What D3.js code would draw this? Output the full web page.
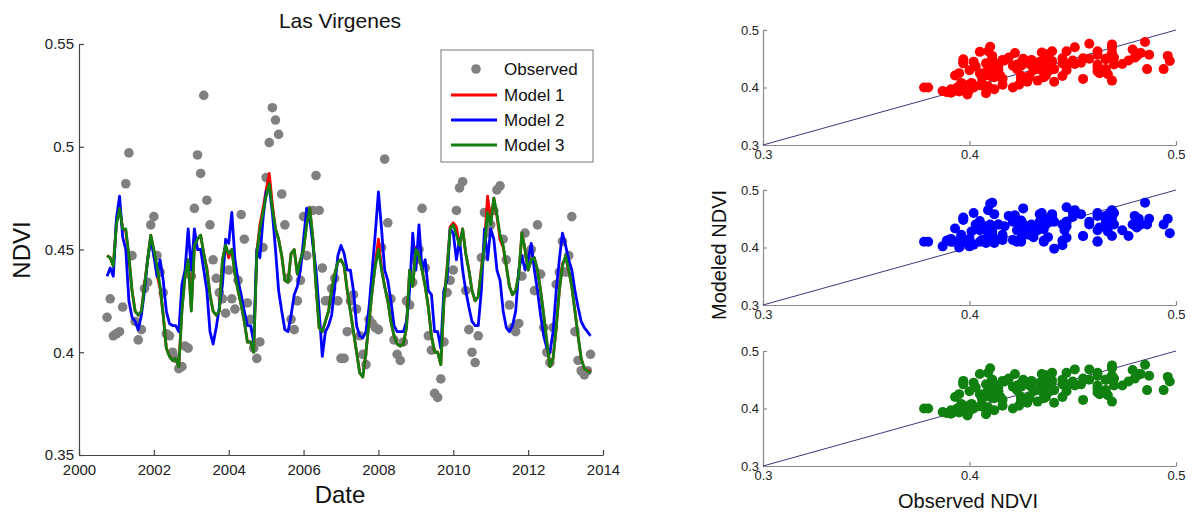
<!DOCTYPE html>
<html>
<head>
<meta charset="utf-8">
<script src="https://cdn.jsdelivr.net/npm/d3@7"></script>
<style>
  html, body { margin: 0; padding: 0; background: #fff; }
  svg { display: block; font-family: "Liberation Sans", Arial, sans-serif; }
</style>
</head>
<body>
<svg id="chart" width="1193" height="514"></svg>
<script>
// Monthly series, October 2000 through September 2013
const startYear = 2000.75;
const monthsPerYear = 12;

const observed = [
  0.417, 0.426, 0.408, 0.409, 0.410, 0.422, 0.482, 0.497, 0.447, 0.415, 0.406, 0.411,
  0.431, 0.434, 0.462, 0.466, 0.447, 0.439, 0.429, 0.409, 0.408, 0.400, 0.397, 0.392,
  0.393, 0.403, 0.402, 0.437, 0.470, 0.496, 0.487, 0.525, 0.474, 0.462, 0.445, 0.436,
  0.429, 0.426, 0.419, 0.440, 0.426, 0.421, 0.435, 0.467, 0.455, 0.424, 0.416, 0.402,
  0.397, 0.405, 0.451, 0.485, 0.502, 0.519, 0.513, 0.506, 0.477, 0.462, 0.436, 0.416,
  0.411, 0.425, 0.435, 0.466, 0.447, 0.469, 0.469, 0.486, 0.469, 0.441, 0.425, 0.425,
  0.431, 0.436, 0.425, 0.397, 0.397, 0.410, 0.425, 0.428, 0.421, 0.408, 0.399, 0.394,
  0.416, 0.414, 0.412, 0.411, 0.451, 0.494, 0.463, 0.426, 0.406, 0.399, 0.396, 0.405,
  0.425, 0.423, 0.434, 0.445, 0.450, 0.470, 0.441, 0.408, 0.401, 0.380, 0.378, 0.387,
  0.405, 0.429, 0.435, 0.440, 0.469, 0.480, 0.483, 0.430, 0.411, 0.400, 0.395, 0.408,
  0.446, 0.468, 0.458, 0.462, 0.469, 0.479, 0.481, 0.455, 0.445, 0.423, 0.412, 0.410,
  0.414, 0.437, 0.458, 0.447, 0.450, 0.430, 0.462, 0.438, 0.412, 0.400, 0.395, 0.412,
  0.433, 0.439, 0.454, 0.439, 0.447, 0.466, 0.410, 0.396, 0.391, 0.389, 0.391, 0.399
];

const model1 = [
  0.447, 0.446, 0.442, 0.463, 0.471, 0.460, 0.459, 0.446, 0.430, 0.420, 0.418, 0.420,
  0.433, 0.445, 0.457, 0.449, 0.438, 0.431, 0.418, 0.402, 0.398, 0.396, 0.397, 0.393,
  0.421, 0.437, 0.445, 0.421, 0.452, 0.455, 0.457, 0.448, 0.441, 0.428, 0.420, 0.418,
  0.420, 0.445, 0.452, 0.446, 0.450, 0.438, 0.430, 0.423, 0.415, 0.405, 0.405, 0.400,
  0.449, 0.462, 0.470, 0.479, 0.487, 0.472, 0.460, 0.455, 0.447, 0.435, 0.434, 0.448,
  0.450, 0.438, 0.445, 0.450, 0.463, 0.470, 0.455, 0.432, 0.412, 0.410, 0.415, 0.420,
  0.430, 0.438, 0.444, 0.445, 0.442, 0.430, 0.420, 0.410, 0.400, 0.390, 0.388, 0.400,
  0.415, 0.430, 0.443, 0.455, 0.441, 0.432, 0.425, 0.415, 0.408, 0.404, 0.403, 0.404,
  0.412, 0.440, 0.432, 0.451, 0.447, 0.440, 0.432, 0.422, 0.408, 0.400, 0.400, 0.394,
  0.425, 0.441, 0.461, 0.463, 0.461, 0.452, 0.460, 0.448, 0.440, 0.430, 0.425, 0.427,
  0.441, 0.453, 0.476, 0.463, 0.475, 0.466, 0.455, 0.451, 0.442, 0.432, 0.428, 0.430,
  0.438, 0.458, 0.450, 0.440, 0.445, 0.446, 0.440, 0.430, 0.418, 0.405, 0.393, 0.397,
  0.412, 0.430, 0.443, 0.446, 0.440, 0.432, 0.420, 0.408, 0.397, 0.392, 0.391, 0.391
];

const model2 = [
  0.437, 0.441, 0.437, 0.465, 0.476, 0.456, 0.450, 0.425, 0.417, 0.415, 0.411, 0.418,
  0.430, 0.445, 0.455, 0.447, 0.437, 0.445, 0.435, 0.420, 0.414, 0.413, 0.413, 0.410,
  0.433, 0.440, 0.460, 0.440, 0.460, 0.450, 0.450, 0.440, 0.430, 0.410, 0.404, 0.412,
  0.422, 0.433, 0.455, 0.453, 0.468, 0.445, 0.435, 0.428, 0.420, 0.413, 0.413, 0.405,
  0.450, 0.446, 0.465, 0.478, 0.480, 0.468, 0.450, 0.430, 0.420, 0.411, 0.410, 0.418,
  0.428, 0.432, 0.440, 0.455, 0.470, 0.465, 0.452, 0.440, 0.420, 0.398, 0.410, 0.413,
  0.418, 0.432, 0.447, 0.452, 0.448, 0.440, 0.440, 0.430, 0.413, 0.408, 0.407, 0.410,
  0.422, 0.440, 0.458, 0.478, 0.460, 0.440, 0.435, 0.425, 0.413, 0.410, 0.410, 0.410,
  0.415, 0.430, 0.458, 0.440, 0.462, 0.440, 0.445, 0.430, 0.428, 0.410, 0.410, 0.402,
  0.430, 0.435, 0.460, 0.458, 0.445, 0.455, 0.440, 0.430, 0.422, 0.415, 0.413, 0.413,
  0.430, 0.460, 0.445, 0.460, 0.455, 0.440, 0.435, 0.420, 0.412, 0.410, 0.413, 0.420,
  0.440, 0.447, 0.440, 0.445, 0.453, 0.440, 0.430, 0.418, 0.408, 0.402, 0.400, 0.410,
  0.430, 0.445, 0.458, 0.452, 0.445, 0.440, 0.430, 0.422, 0.415, 0.412, 0.410, 0.408
];

const model3 = [
  0.447, 0.446, 0.442, 0.462, 0.470, 0.460, 0.460, 0.447, 0.430, 0.420, 0.418, 0.420,
  0.432, 0.445, 0.457, 0.450, 0.442, 0.432, 0.418, 0.402, 0.398, 0.396, 0.397, 0.393,
  0.420, 0.437, 0.445, 0.420, 0.452, 0.455, 0.457, 0.448, 0.440, 0.428, 0.420, 0.418,
  0.420, 0.445, 0.452, 0.448, 0.450, 0.438, 0.430, 0.423, 0.415, 0.405, 0.405, 0.400,
  0.448, 0.460, 0.468, 0.476, 0.482, 0.470, 0.460, 0.455, 0.447, 0.435, 0.434, 0.448,
  0.450, 0.438, 0.445, 0.450, 0.462, 0.470, 0.455, 0.432, 0.412, 0.410, 0.415, 0.420,
  0.430, 0.438, 0.444, 0.445, 0.442, 0.430, 0.420, 0.410, 0.400, 0.390, 0.388, 0.400,
  0.415, 0.430, 0.442, 0.450, 0.440, 0.432, 0.425, 0.415, 0.408, 0.404, 0.403, 0.404,
  0.412, 0.440, 0.432, 0.450, 0.447, 0.440, 0.432, 0.422, 0.408, 0.400, 0.400, 0.394,
  0.425, 0.440, 0.460, 0.462, 0.457, 0.452, 0.460, 0.448, 0.440, 0.430, 0.425, 0.427,
  0.440, 0.452, 0.468, 0.462, 0.475, 0.467, 0.457, 0.452, 0.442, 0.432, 0.428, 0.430,
  0.438, 0.458, 0.450, 0.440, 0.445, 0.446, 0.440, 0.430, 0.418, 0.405, 0.393, 0.397,
  0.412, 0.430, 0.442, 0.447, 0.440, 0.432, 0.420, 0.408, 0.397, 0.392, 0.391, 0.390
];

const seriesNames = ["Observed", "Model 1", "Model 2", "Model 3"];
const modelColors = ["#ff0000", "#0000ff", "#108010"];
const dateTicks = [2000, 2002, 2004, 2006, 2008, 2010, 2012, 2014];
const ndviTicks = [0.35, 0.40, 0.45, 0.50, 0.55];
const scatterTicks = [0.3, 0.4, 0.5];

const dates = observed.map((_, i) => startYear + i / monthsPerYear);
const models = [model1, model2, model3];

const svg = d3.select("#chart");
const fmt = d => String(+d.toFixed(2));

// ---------- Time series panel ----------
const ts = { left: 79, right: 603, top: 44, bottom: 455 };
const x = d3.scaleLinear().domain([2000, 2014]).range([ts.left, ts.right]);
const y = d3.scaleLinear().domain([0.35, 0.55]).range([ts.bottom, ts.top]);

const gL = svg.append("g");

const xAxis = gL.append("g")
  .attr("transform", `translate(0,${ts.bottom})`)
  .call(d3.axisBottom(x).tickValues(dateTicks).tickFormat(d3.format("d")).tickSize(-5).tickSizeOuter(0).tickPadding(9));
const yAxis = gL.append("g")
  .attr("transform", `translate(${ts.left},0)`)
  .call(d3.axisLeft(y).tickValues(ndviTicks).tickFormat(fmt).tickSize(-5).tickSizeOuter(0).tickPadding(5));
[xAxis, yAxis].forEach(a => {
  a.selectAll("path, line").attr("stroke", "#444").attr("stroke-width", 1.2);
  a.selectAll("text").attr("fill", "#222").style("font-size", "15px");
});

// observations
gL.append("g").selectAll("circle")
  .data(observed)
  .join("circle")
  .attr("cx", (d, i) => x(dates[i]))
  .attr("cy", d => y(d))
  .attr("r", 4.8)
  .attr("fill", "#808080");

// model lines
const line = d3.line().x((d, i) => x(dates[i])).y(d => y(d));
models.forEach((m, k) => {
  gL.append("path")
    .datum(m)
    .attr("d", line)
    .attr("fill", "none")
    .attr("stroke", modelColors[k])
    .attr("stroke-width", 2.8)
    .attr("stroke-linejoin", "round");
});

// title and axis labels
gL.append("text").attr("x", 340).attr("y", 28).attr("text-anchor", "middle")
  .style("font-size", "21px").attr("fill", "#111").text("Las Virgenes");
gL.append("text").attr("x", 340).attr("y", 503).attr("text-anchor", "middle")
  .style("font-size", "24px").attr("fill", "#111").text("Date");
gL.append("text").attr("transform", `translate(30,250) rotate(-90)`).attr("text-anchor", "middle")
  .style("font-size", "24px").attr("fill", "#111").text("NDVI");

// legend
const lg = gL.append("g").attr("transform", "translate(441,50)");
lg.append("rect").attr("width", 152).attr("height", 112)
  .attr("fill", "#fff").attr("stroke", "#777").attr("stroke-width", 1);
const rowY = [19, 45, 70, 95];
lg.append("circle").attr("cx", 35).attr("cy", rowY[0]).attr("r", 4.8).attr("fill", "#808080");
modelColors.forEach((c, k) => {
  lg.append("line").attr("x1", 10).attr("x2", 56)
    .attr("y1", rowY[k + 1]).attr("y2", rowY[k + 1])
    .attr("stroke", c).attr("stroke-width", 2.8);
});
seriesNames.forEach((s, k) => {
  lg.append("text").attr("x", 63).attr("y", rowY[k]).attr("dy", "0.36em")
    .style("font-size", "17px").attr("fill", "#111").text(s);
});

// ---------- Observed vs modeled scatter panels ----------
const sc = { left: 763, right: 1176 };
const panelTops = [30, 190, 351];
const panelH = 115;
const sx = d3.scaleLinear().domain([0.3, 0.5]).range([sc.left, sc.right]);

models.forEach((m, k) => {
  const top = panelTops[k];
  const sy = d3.scaleLinear().domain([0.3, 0.5]).range([top + panelH, top]);
  const g = svg.append("g");

  const ax = g.append("g").attr("transform", `translate(0,${top + panelH})`)
    .call(d3.axisBottom(sx).tickValues(scatterTicks).tickFormat(fmt).tickSize(-4).tickSizeOuter(0).tickPadding(5));
  const ay = g.append("g").attr("transform", `translate(${sc.left},0)`)
    .call(d3.axisLeft(sy).tickValues(scatterTicks).tickFormat(fmt).tickSize(-4).tickSizeOuter(0).tickPadding(4));
  [ax, ay].forEach(a => {
    a.selectAll("path, line").attr("stroke", "#8a8a8a").attr("stroke-width", 1.2);
    a.selectAll("text").attr("fill", "#222").style("font-size", "13px");
  });

  // 1:1 reference line
  g.append("line")
    .attr("x1", sx(0.3)).attr("y1", sy(0.3))
    .attr("x2", sx(0.5)).attr("y2", sy(0.5))
    .attr("stroke", "#3a3a7a").attr("stroke-width", 1);

  const pairs = observed.map((o, i) => [o, m[i]])
    .filter(p => p[0] >= 0.3 && p[0] <= 0.5 && p[1] >= 0.3 && p[1] <= 0.5);
  g.append("g").selectAll("circle")
    .data(pairs)
    .join("circle")
    .attr("cx", d => sx(d[0]))
    .attr("cy", d => sy(d[1]))
    .attr("r", 5)
    .attr("fill", modelColors[k]);
});

svg.append("text").attr("x", 968).attr("y", 508).attr("text-anchor", "middle")
  .style("font-size", "20px").attr("fill", "#111").text("Observed NDVI");
svg.append("text").attr("transform", `translate(726,255) rotate(-90)`).attr("text-anchor", "middle")
  .style("font-size", "20px").attr("fill", "#111").text("Modeled NDVI");
</script>
</body>
</html>
